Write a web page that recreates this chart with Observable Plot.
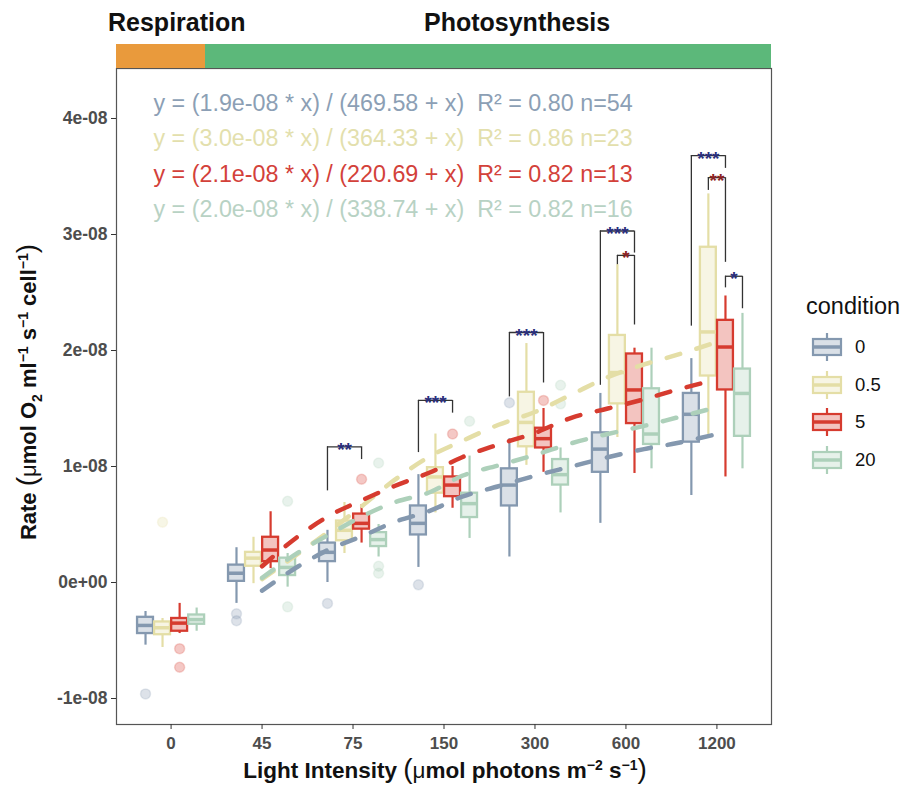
<!DOCTYPE html>
<html><head><meta charset="utf-8">
<script src="https://cdn.jsdelivr.net/npm/d3@7"></script>
<script src="https://cdn.jsdelivr.net/npm/@observablehq/plot@0.6"></script>
<style>
body{margin:0;background:#fff;font-family:"Liberation Sans",Arial,Helvetica,sans-serif;}
#wrap{position:relative;width:902px;height:785px;overflow:hidden;background:#fff;}
#wrap svg.plot{position:absolute;left:0;top:0;}
.strip{position:absolute;top:44px;height:24px;}
.facet{position:absolute;top:8px;font-weight:bold;font-size:25px;color:#111;white-space:nowrap;}
#xlab{position:absolute;left:0;width:890px;top:753px;text-align:center;font-weight:bold;font-size:22.5px;color:#111;white-space:nowrap;}
#ylab{position:absolute;left:28px;top:392px;transform:translate(-50%,-50%) rotate(-90deg);font-weight:bold;font-size:22px;color:#111;white-space:nowrap;}
.par{font-weight:normal;font-size:28px;}
.mu{font-weight:normal;}
sup,sub{font-size:14px;}
#legend{position:absolute;left:806px;top:293px;font-size:23.5px;color:#111;}
.lk{position:absolute;left:4px;width:34px;height:34px;}
.ll{position:absolute;left:49px;font-size:18.5px;}
</style></head><body><div id="wrap"></div>
<script>
// ---------- data (rates in units of 1e-8 µmol O2 ml-1 s-1 cell-1) ----------
const lightLevels = ["0","45","75","150","300","600","1200"];
const conditions = ["0","0.5","5","20"];
const condColors = ["#8498af","#e4dea6","#d63b2f","#add0ba"];
const eqColors = ["#8c9fb5","#e3dfad","#d3413a","#b8d2c4"];

// box stats per light level: [lower whisker, q1, median, q3, upper whisker]
const stats_0 = [[-0.54,-0.44,-0.37,-0.30,-0.25],[-0.18,0.01,0.08,0.15,0.30],[0.00,0.18,0.26,0.34,0.45],[0.13,0.41,0.51,0.66,0.93],[0.22,0.66,0.84,0.98,1.24],[0.51,0.95,1.15,1.29,1.63],[0.75,1.21,1.45,1.63,1.93]];
const stats_05 = [[-0.56,-0.45,-0.39,-0.34,-0.31],[-0.01,0.14,0.21,0.26,0.39],[0.25,0.36,0.45,0.53,0.69],[0.60,0.77,0.91,0.99,1.28],[1.01,1.17,1.38,1.64,2.06],[1.25,1.54,1.81,2.13,2.74],[1.25,1.78,2.16,2.89,3.35]];
const stats_5 = [[-0.44,-0.42,-0.35,-0.31,-0.18],[0.12,0.18,0.28,0.39,0.61],[0.34,0.46,0.51,0.59,0.67],[0.64,0.74,0.84,0.91,1.00],[0.95,1.16,1.24,1.33,1.50],[0.94,1.37,1.66,1.97,2.02],[0.91,1.66,2.03,2.26,2.47]];
const stats_20 = [[-0.42,-0.36,-0.32,-0.28,-0.22],[-0.04,0.06,0.13,0.21,0.25],[0.22,0.31,0.37,0.43,0.50],[0.38,0.56,0.68,0.77,1.09],[0.60,0.84,0.93,1.06,1.16],[0.98,1.19,1.28,1.67,2.02],[0.98,1.26,1.63,1.84,2.32]];

// outliers
const outlierCond  = ["0","0","0","0","0","0","0.5","5","5","5","5","5","20","20","20","20","20","20","20","20"];
const outlierLight = ["0","45","45","75","150","300","0","0","0","75","150","300","45","45","75","75","75","150","300","300"];
const outlierValue = [-0.96,-0.27,-0.33,-0.18,-0.02,1.55,0.52,-0.57,-0.73,0.89,1.28,1.57,0.70,-0.21,1.03,0.14,0.08,1.39,1.70,1.54];

// fitted curves (position along the light axis, value)
const curvePos = [2.0,2.4,2.75,3.1,3.45,3.85,4.2,4.6,5.0,5.4,5.8,6.2,6.55,6.95];
const curve_0  = [-0.07,0.14,0.29,0.40,0.52,0.62,0.74,0.83,0.92,1.00,1.08,1.15,1.20,1.27];
const curve_05 = [0.03,0.25,0.45,0.66,0.88,1.09,1.22,1.36,1.47,1.62,1.77,1.88,1.96,2.06];
const curve_5  = [0.14,0.40,0.58,0.71,0.83,0.95,1.08,1.19,1.29,1.42,1.50,1.58,1.66,1.74];
const curve_20 = [0.04,0.26,0.42,0.57,0.69,0.78,0.92,1.01,1.10,1.20,1.28,1.35,1.42,1.50];

// equations
const eqA  = ["1.9e-08","3.0e-08","2.1e-08","2.0e-08"];
const eqK  = ["469.58","364.33","220.69","338.74"];
const eqR2 = ["0.80","0.86","0.82","0.82"];
const eqN  = ["54","23","13","16"];

// significance brackets
const brLight = ["75","150","300","600","600","1200","1200","1200"];
const brFrom  = ["0","0","0","0","0.5","0","0.5","5"];
const brTo    = ["5","5","5","5","5","5","5","20"];
const brTop   = [1.17,1.57,2.155,3.03,2.82,3.68,3.49,2.64];
const brLeft  = [0.79,1.12,1.60,1.70,2.74,2.21,3.38,2.54];
const brRight = [1.06,1.46,1.72,2.84,2.22,3.57,2.76,2.36];
const brLabel = ["**","***","***","***","*","***","**","*"];
const brColor = ["#2a2f7c","#2a2f7c","#2a2f7c","#2a2f7c","#8b2323","#2a2f7c","#8b2323","#2a2f7c"];

const yTicks = [-1,0,1,2,3,4];
const yTickLabels = ["-1e-08","0e+00","1e-08","2e-08","3e-08","4e-08"];

// ---------- build tables ----------
const S = 1e-8;
const dodge = {"0":-0.281,"0.5":-0.094,"5":0.094,"20":0.281};
const boxW = 0.175;
const pos = (light, cond) => lightLevels.indexOf(light) + 1 + dodge[cond];
const allStats = [stats_0, stats_05, stats_5, stats_20];
const boxes = [];
conditions.forEach((c, ci) => allStats[ci].forEach((s, li) => {
  boxes.push({cond:c, p: pos(lightLevels[li], c), lo:s[0]*S, q1:s[1]*S, med:s[2]*S, q3:s[3]*S, hi:s[4]*S});
}));
const outliers = outlierValue.map((v,i) => ({cond: outlierCond[i], p: pos(outlierLight[i], outlierCond[i]), v: v*S}));
const allCurves = [curve_0, curve_05, curve_5, curve_20];
const curves = [];
conditions.forEach((c, ci) => allCurves[ci].forEach((v, i) => curves.push({cond:c, p: curvePos[i], v: v*S})));
const brackets = brLight.map((l,i) => ({x1: pos(l, brFrom[i]), x2: pos(l, brTo[i]), top: brTop[i]*S, left: brLeft[i]*S, right: brRight[i]*S, label: brLabel[i], color: brColor[i]}));
const equations = eqA.map((a,i) => `y = (${a} * x) / (${eqK[i]} + x)\u00a0\u00a0R\u00b2 = ${eqR2[i]} n=${eqN[i]}`);

const color = {domain: conditions, range: condColors};

const eqMarks = equations.map((t,i) => Plot.text([t], {
  text: d => d, frameAnchor: "top-left", textAnchor: "start", lineAnchor: "bottom",
  dx: 37, dy: 42 + i*35.5, fill: eqColors[i], fontSize: 23.3, fontWeight: "normal"
}));

const chart = Plot.plot({
  width: 902, height: 785,
  marginLeft: 116, marginRight: 131, marginTop: 68, marginBottom: 61,
  style: {fontFamily: '"Liberation Sans", Arial, sans-serif', background: "white"},
  x: {domain: [0.4, 7.6]},
  y: {domain: [-1.224e-8, 4.431e-8]},
  color,
  marks: [
    Plot.frame({stroke: "#555", strokeWidth: 1.2}),
    Plot.axisX({ticks: lightLevels.map((d,i)=>i+1), tickFormat: (d) => lightLevels[d-1], tickSize: 5, tickPadding: 7,
      fontSize: 17, fontWeight: "bold", fill: "#4d4d4d", stroke: "#333", label: null}),
    Plot.axisY({ticks: yTicks.map(d=>d*S), tickFormat: (d) => yTickLabels[yTicks.indexOf(Math.round(d/S))], tickSize: 5, tickPadding: 4,
      fontSize: 17.5, fontWeight: "bold", fill: "#4d4d4d", stroke: "#333", label: null}),
    // whiskers
    Plot.ruleX(boxes, {x: "p", y1: "lo", y2: "q1", stroke: "cond", strokeWidth: 2.2}),
    Plot.ruleX(boxes, {x: "p", y1: "q3", y2: "hi", stroke: "cond", strokeWidth: 2.2}),
    // boxes
    Plot.rect(boxes, {x1: d => d.p - boxW/2, x2: d => d.p + boxW/2, y1: "q1", y2: "q3", fill: "white"}),
    Plot.rect(boxes, {x1: d => d.p - boxW/2, x2: d => d.p + boxW/2, y1: "q1", y2: "q3", fill: "cond", fillOpacity: 0.3, stroke: "cond", strokeWidth: 2.3}),
    Plot.ruleY(boxes, {y: "med", x1: d => d.p - boxW/2, x2: d => d.p + boxW/2, stroke: "cond", strokeWidth: 3.5}),
    // outliers
    Plot.dot(outliers, {x: "p", y: "v", r: 5, fill: "cond", fillOpacity: 0.28, stroke: "cond", strokeOpacity: 0.2}),
    // fitted curves
    Plot.line(curves, {x: "p", y: "v", z: "cond", stroke: "cond", strokeWidth: 4.5, strokeDasharray: "14,17", curve: "monotone-x"}),
    // brackets
    Plot.ruleY(brackets, {y: "top", x1: "x1", x2: "x2", stroke: "#333", strokeWidth: 1.3}),
    Plot.ruleX(brackets, {x: "x1", y1: "left", y2: "top", stroke: "#333", strokeWidth: 1.3}),
    Plot.ruleX(brackets, {x: "x2", y1: "right", y2: "top", stroke: "#333", strokeWidth: 1.3}),
    Plot.text(brackets, {x: d => (d.x1 + d.x2)/2, y: "top", text: "label", fill: "color", lineAnchor: "bottom", dy: 9, fontSize: 19, fontWeight: "bold"}),
    ...eqMarks
  ]
});
chart.classList.add("plot");
const wrap = document.getElementById("wrap");
wrap.appendChild(chart);

// facet strip
const stripData = [{label:"Respiration", x:116, w:89, color:"#e99a3c", tx:108}, {label:"Photosynthesis", x:205, w:566, color:"#5cb87a", tx:424}];
stripData.forEach(s => {
  const r = document.createElement("div"); r.className = "strip";
  r.style.left = s.x + "px"; r.style.width = s.w + "px"; r.style.background = s.color; wrap.appendChild(r);
  const t = document.createElement("div"); t.className = "facet"; t.style.left = s.tx + "px"; t.textContent = s.label; wrap.appendChild(t);
});

// axis titles
const xl = document.createElement("div"); xl.id = "xlab";
xl.innerHTML = 'Light Intensity <span class="par">(</span><span class="mu">\u03bc</span>mol photons m<sup>\u22122</sup> s<sup>\u22121</sup><span class="par">)</span>';
wrap.appendChild(xl);
const yl = document.createElement("div"); yl.id = "ylab";
yl.innerHTML = 'Rate <span class="par">(</span><span class="mu">\u03bc</span>mol O<sub>2</sub> ml<sup>\u22121</sup> s<sup>\u22121</sup> cell<sup>\u22121</sup><span class="par">)</span>';
wrap.appendChild(yl);

// legend
const lg = document.createElement("div"); lg.id = "legend";
let html = '<div style="position:absolute;left:0;top:0;white-space:nowrap">condition</div>';
conditions.forEach((c,i) => {
  const top = 37 + i*37.5;
  const col = condColors[i];
  html += `<svg class="lk" style="top:${top}px" viewBox="0 0 34 34"><line x1="17" x2="17" y1="3" y2="31" stroke="${col}" stroke-width="2.2"/>` +
    `<rect x="3" y="9" width="28" height="16" fill="white"/><rect x="3" y="9" width="28" height="16" fill="${col}" fill-opacity="0.3" stroke="${col}" stroke-width="2.2"/>` +
    `<line x1="3" x2="31" y1="17" y2="17" stroke="${col}" stroke-width="3.5"/></svg>` +
    `<div class="ll" style="top:${top+6}px">${c}</div>`;
});
lg.innerHTML = html;
wrap.appendChild(lg);
</script>
</body></html>
